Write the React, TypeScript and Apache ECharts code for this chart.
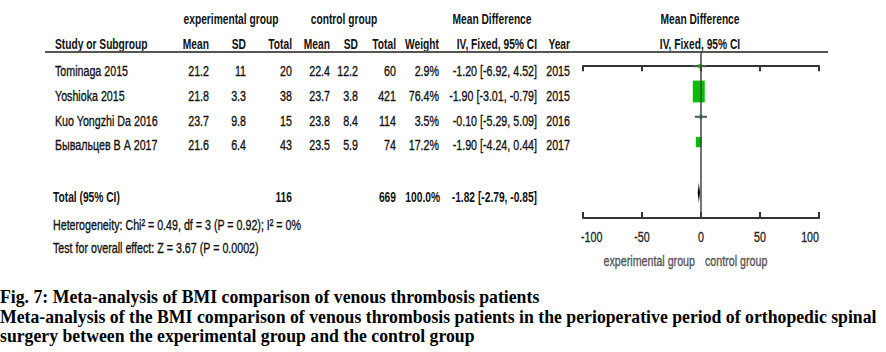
import React, { useEffect, useRef } from "react";
import * as echarts from "echarts";

const studies = ["Tominaga 2015", "Yoshioka 2015", "Kuo Yongzhi Da 2016", "Бывальцев В А 2017"];
const expMean = ["21.2", "21.8", "23.7", "21.6"];
const expSD = ["11", "3.3", "9.8", "6.4"];
const expTotal = ["20", "38", "15", "43"];
const ctlMean = ["22.4", "23.7", "23.8", "23.5"];
const ctlSD = ["12.2", "3.8", "8.4", "5.9"];
const ctlTotal = ["60", "421", "114", "74"];
const weights = [2.9, 76.4, 3.5, 17.2];
const md = [-1.2, -1.9, -0.1, -1.9];
const ciLow = [-6.92, -3.01, -5.29, -4.24];
const ciHigh = [4.52, -0.79, 5.09, 0.44];
const years = ["2015", "2015", "2016", "2017"];
const total = { exp: "116", ctl: "669", weight: "100.0%", md: -1.82, lo: -2.79, hi: -0.85 };
const xTicks = [-100, -50, 0, 50, 100];
const captions = [
  "Fig. 7: Meta-analysis of BMI comparison of venous thrombosis patients",
  "Meta-analysis of the BMI comparison of venous thrombosis patients in the perioperative period of orthopedic spinal",
  "surgery between the experimental group and the control group",
];

const FONT = '"Liberation Sans", Arial, sans-serif';
const SERIF = '"Liberation Serif", "Times New Roman", serif';
const REG_SCALE = 0.69;
const BOLD_SCALE = 0.66;

const fmtCI = (m: number, l: number, h: number) =>
  `${m.toFixed(2)} [${l.toFixed(2)}, ${h.toFixed(2)}]`;

export default function App() {
  const ref = useRef<HTMLDivElement>(null);
  useEffect(() => {
    document.body.style.margin = "0";
    const chart = echarts.init(ref.current!, null, { renderer: "svg" });
    const rowY0 = 71;
    const rowStep = 24.7;
    const txt = (text: string, x: number, y: number, align: string, opts: any = {}) => {
      const fill = opts.fill || "#111";
      const style: any = {
        text,
        fill,
        font: `${opts.bold ? "bold " : ""}${opts.size || 15.5}px ${opts.font || FONT}`,
        textAlign: align,
        textVerticalAlign: "middle",
      };
      if (!opts.bold && !opts.font) {
        style.stroke = fill;
        style.lineWidth = 0.35;
      }
      return {
        type: "text",
        x,
        y,
        scaleX: opts.scale != null ? opts.scale : opts.bold ? BOLD_SCALE : REG_SCALE,
        style,
      };
    };
    const g: any[] = [];
    // header
    g.push(txt("experimental group", 231, 19, "center", { bold: true }));
    g.push(txt("control group", 344, 19, "center", { bold: true }));
    g.push(txt("Mean Difference", 492, 19, "center", { bold: true }));
    g.push(txt("Mean Difference", 700, 19, "center", { bold: true }));
    g.push(txt("Study or Subgroup", 55, 44, "left", { bold: true }));
    const cols = [209, 246, 292, 330, 358, 396, 439, 537, 570];
    const heads = ["Mean", "SD", "Total", "Mean", "SD", "Total", "Weight", "IV, Fixed, 95% CI", "Year"];
    heads.forEach((h, i) => g.push(txt(h, cols[i], 44, "right", { bold: true })));
    g.push(txt("IV, Fixed, 95% CI", 700, 44, "center", { bold: true }));
    g.push({ type: "line", shape: { x1: 45, y1: 52, x2: 828, y2: 52 }, style: { stroke: "#555", lineWidth: 2 } });
    studies.forEach((s, i) => {
      const y = rowY0 + i * rowStep;
      g.push(txt(s, 55, y, "left"));
      const vals = [expMean[i], expSD[i], expTotal[i], ctlMean[i], ctlSD[i], ctlTotal[i], weights[i].toFixed(1) + "%", fmtCI(md[i], ciLow[i], ciHigh[i]), years[i]];
      vals.forEach((v, j) => g.push(txt(v, cols[j], y, "right")));
    });
    g.push(txt("Total (95% CI)", 53, 197, "left", { bold: true }));
    g.push(txt(total.exp, 292, 197, "right", { bold: true }));
    g.push(txt(total.ctl, 396, 197, "right", { bold: true }));
    g.push(txt(total.weight, 440, 197, "right", { bold: true }));
    g.push(txt(fmtCI(total.md, total.lo, total.hi), 537, 197, "right", { bold: true }));
    g.push(txt("Heterogeneity: Chi² = 0.49, df = 3 (P = 0.92); I² = 0%", 53, 225, "left"));
    g.push(txt("Test for overall effect: Z = 3.67 (P = 0.0002)", 53, 248, "left"));
    g.push(txt("experimental group", 695, 261, "right", { fill: "#555" }));
    g.push(txt("control group", 705, 261, "left", { fill: "#555" }));
    const capY = [297, 316.5, 335.5];
    captions.forEach((c, i) =>
      g.push(txt(c, 0, capY[i], "left", { bold: true, size: 18, font: SERIF, fill: "#000", scale: 0.985 }))
    );

    const studyData = studies.map((_, i) => [md[i], ciLow[i], ciHigh[i], i, weights[i]]);
    const axisBase = {
      type: "value",
      min: -100,
      max: 100,
      interval: 50,
      position: "bottom",
      splitLine: { show: false },
      axisLine: { show: true, lineStyle: { color: "#333", width: 2 } },
    };
    chart.setOption({
      animation: false,
      grid: { left: 583, right: 67, top: 51, bottom: 134 },
      xAxis: [
        {
          ...axisBase,
          axisTick: { show: true, length: 5, lineStyle: { color: "#333", width: 2 } },
          axisLabel: { show: false },
        },
        {
          ...axisBase,
          axisTick: { show: true, inside: true, length: 6, lineStyle: { color: "#333", width: 2 } },
          axisLabel: { show: false },
        },
      ],
      yAxis: { type: "value", min: -0.6, max: 6, inverse: true, show: false },
      series: [
        {
          type: "custom",
          data: studyData,
          renderItem: (params: any, api: any) => {
            const m = api.value(0), lo = api.value(1), hi = api.value(2), r = api.value(3), w = api.value(4);
            const [xm, y] = api.coord([m, r]);
            const xl = api.coord([lo, r])[0];
            const xh = api.coord([hi, r])[0];
            const bw = 1.37 * Math.sqrt(w);
            const bh = 2.5 * Math.sqrt(w);
            return {
              type: "group",
              children: [
                { type: "line", shape: { x1: xl, y1: y, x2: xh, y2: y }, style: { stroke: "#555", lineWidth: 2 } },
                { type: "rect", shape: { x: xm - bw / 2, y: y - bh / 2, width: bw, height: bh }, style: { fill: "#00c000" } },
              ],
            };
          },
          markLine: {
            silent: true,
            symbol: "none",
            label: { show: false },
            lineStyle: { color: "#444", width: 1.5, type: "solid" },
            data: [{ xAxis: 0 }],
          },
        },
        {
          type: "custom",
          data: [[total.md, total.lo, total.hi, 5]],
          renderItem: (params: any, api: any) => {
            const r = api.value(3);
            const [xm, y] = api.coord([api.value(0), r]);
            const xl = api.coord([api.value(1), r])[0];
            const xh = api.coord([api.value(2), r])[0];
            const h = 10;
            return {
              type: "polygon",
              shape: { points: [[xl, y], [xm, y - h], [xh, y], [xm, y + h]] },
              style: { fill: "#000" },
            };
          },
        },
        {
          type: "custom",
          data: xTicks.map((v) => [v, 6]),
          renderItem: (params: any, api: any) => {
            const v = api.value(0);
            const [x, y] = api.coord([v, api.value(1)]);
            const first = v === xTicks[0];
            const last = v === xTicks[xTicks.length - 1];
            return {
              type: "text",
              x: first ? x - 2 : x,
              y: y + 19,
              scaleX: REG_SCALE,
              style: {
                text: String(v),
                fill: "#222",
                stroke: "#222",
                lineWidth: 0.35,
                font: `15.5px ${FONT}`,
                textAlign: first ? "left" : last ? "right" : "center",
                textVerticalAlign: "middle",
              },
            };
          },
        },
      ],
      graphic: g,
    });
    return () => chart.dispose();
  }, []);
  return <div ref={ref} style={{ width: 886, height: 352, background: "#fff" }} />;
}
